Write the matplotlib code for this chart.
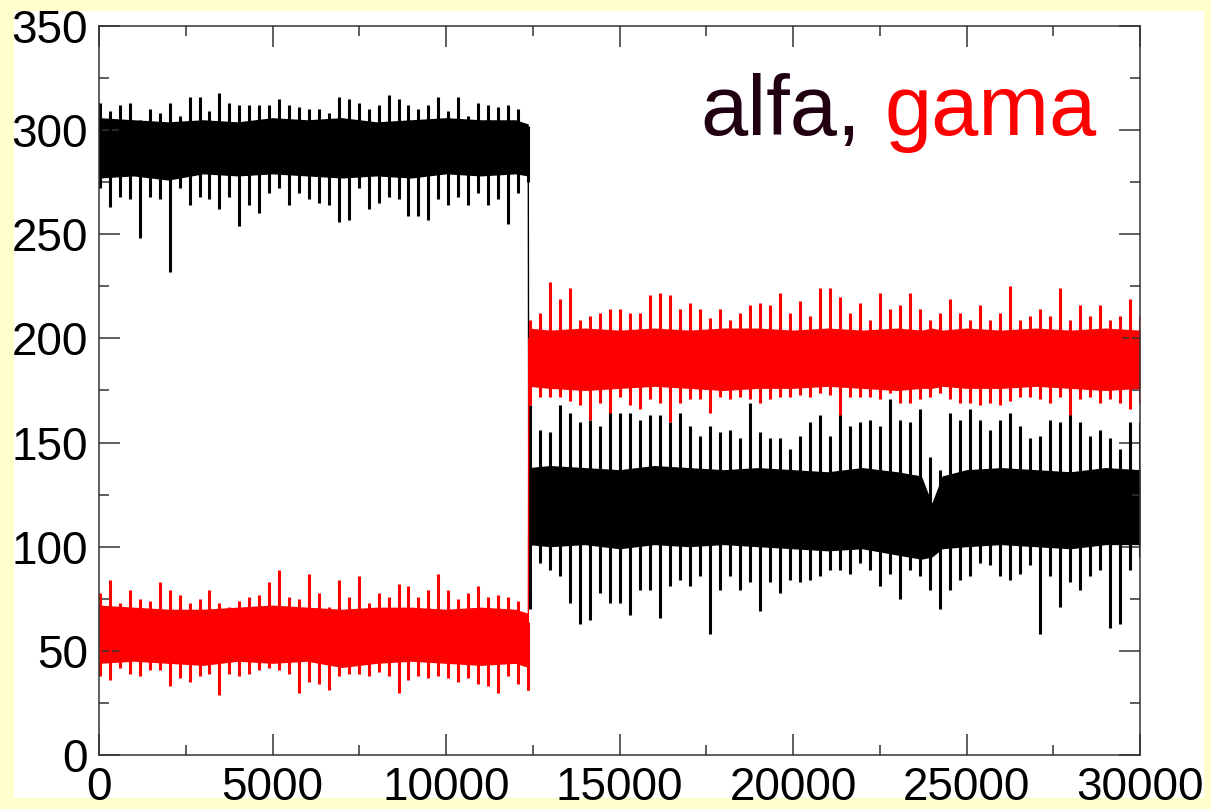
import numpy as np
import matplotlib.pyplot as plt
from matplotlib.patches import Rectangle
from matplotlib.ticker import MultipleLocator

plt.rcParams['font.family'] = ['Liberation Sans', 'DejaVu Sans']

# regime 1 (steps 0 .. 12370): spike extremes, one pair per ~290-step bin
alfa1_hi = [313, 309, 312, 313, 305, 310, 308, 313, 307, 316, 316, 309, 318, 313, 312,
            312, 312, 312, 315, 312, 311, 310, 310, 308, 316, 315, 313, 310, 312, 317,
            315, 312, 310, 312, 316, 309, 316, 307, 313, 312, 311, 312, 310, 302]
alfa1_lo = [272, 263, 268, 267, 248, 268, 267, 232, 272, 264, 268, 267, 262, 268, 254,
            264, 260, 270, 272, 264, 270, 267, 265, 264, 256, 257, 272, 262, 265, 268,
            267, 259, 259, 257, 267, 264, 268, 264, 270, 264, 267, 255, 270, 275]
gama1_hi = [78, 84, 73, 79, 75, 74, 83, 79, 77, 73, 75, 79, 73, 71, 74,
            76, 77, 83, 89, 76, 75, 87, 78, 71, 84, 76, 86, 73, 78, 76,
            82, 81, 76, 79, 87, 79, 75, 78, 81, 76, 77, 76, 74, 64]
gama1_lo = [38, 36, 42, 39, 38, 41, 41, 33, 37, 35, 38, 39, 29, 39, 38,
            39, 41, 42, 41, 39, 30, 35, 34, 31, 38, 39, 39, 38, 40, 38,
            30, 36, 38, 37, 38, 37, 35, 37, 34, 33, 30, 38, 34, 31]

# regime 2 (steps 12420 .. 30000)
alfa2_hi = [168, 156, 155, 168, 164, 160, 161, 158, 166, 164, 164, 161, 163, 163, 160, 164,
            158, 153, 158, 155, 156, 152, 169, 155, 152, 152, 147, 153, 160, 163, 153,
            164, 158, 160, 161, 158, 171, 161, 160, 166, 143, 137, 164, 161, 166, 161, 156,
            161, 164, 158, 152, 153, 161, 160, 167, 160, 153, 156, 152, 147, 160, 160]
alfa2_lo = [70, 92, 89, 86, 73, 63, 65, 78, 73, 73, 67, 79, 79, 66, 81, 84,
            81, 86, 58, 79, 86, 79, 83, 69, 83, 78, 84, 83, 84, 86, 89,
            89, 87, 92, 89, 81, 87, 75, 89, 86, 79, 70, 79, 84, 86, 92, 91,
            86, 84, 87, 91, 58, 86, 71, 83, 79, 86, 89, 61, 63, 89, 95]
gama2_hi = [209, 212, 227, 219, 224, 209, 211, 212, 214, 214, 212, 212, 221, 222, 221, 214,
            217, 214, 210, 214, 209, 212, 216, 217, 216, 222, 212, 218, 211, 224, 224,
            220, 212, 217, 209, 222, 214, 216, 222, 214, 209, 212, 219, 212, 209, 216, 209,
            212, 225, 209, 211, 214, 211, 224, 209, 216, 211, 216, 209, 211, 219, 211]
gama2_lo = [168, 172, 172, 172, 170, 168, 161, 169, 164, 172, 168, 166, 171, 169, 160, 169,
            171, 171, 164, 172, 171, 172, 171, 169, 171, 172, 172, 173, 172, 174, 173,
            163, 172, 172, 172, 171, 174, 169, 169, 171, 172, 174, 171, 169, 169, 168, 169,
            168, 170, 172, 172, 171, 169, 172, 163, 171, 172, 169, 171, 169, 166, 169]

# dense (almost solid) part of each band
core1_x = [0, 1000, 2000, 3000, 4000, 5000, 6000, 7000, 8000, 9000, 10000, 11000, 12000, 12370]
alfa1_top = [306, 305, 304, 305, 304, 306, 305, 306, 304, 305, 306, 305, 305, 303]
alfa1_bot = [277, 278, 276, 279, 278, 279, 278, 277, 278, 277, 279, 278, 279, 278]
gama1_top = [72, 71, 70, 70, 71, 72, 71, 70, 71, 71, 70, 71, 70, 68]
gama1_bot = [44, 45, 44, 43, 45, 44, 45, 42, 44, 45, 44, 43, 44, 42]

core2_x = [12380, 13000, 14000, 15000, 16000, 17000, 18000, 19000, 20000, 21000,
           22000, 23000, 23700, 24000, 24300, 25000, 26000, 27000, 28000, 29000, 30000]
alfa2_top = [138, 139, 138, 137, 139, 138, 137, 138, 137, 136, 138, 136, 134, 121, 134,
             137, 138, 137, 136, 138, 137]
alfa2_bot = [101, 100, 101, 99, 101, 100, 101, 100, 99, 98, 99, 96, 94, 95, 99,
             100, 101, 100, 99, 101, 101]
gama2_top = [205, 204, 205, 204, 205, 204, 205, 205, 204, 205, 204, 205, 204, 205, 204,
             205, 204, 205, 204, 205, 204]
gama2_bot = [177, 176, 175, 176, 177, 176, 175, 176, 176, 177, 176, 175, 176, 176, 177,
             176, 176, 177, 176, 175, 176]

# the jump between regimes
switch_x = [12370, 12385]
alfa_switch = [297, 120]
gama_switch = [31, 200]

bins1 = np.linspace(30, 12360, len(alfa1_hi))
bins2 = np.linspace(12420, 29990, len(alfa2_hi))

fig = plt.figure(figsize=(12.11, 8.09), dpi=100, facecolor='#ffffcc')
fig.patches.append(Rectangle((14 / 1211, 1 - 798 / 809), 1190 / 1211, 787 / 809,
                             transform=fig.transFigure, facecolor='white',
                             edgecolor='none', zorder=-10))
ax = fig.add_axes([99 / 1211, 1 - 755 / 809, 1041 / 1211, 729 / 809], zorder=1)

for col, c1t, c1b, c2t, c2b, h1, l1, h2, l2, sw in [
        ('black', alfa1_top, alfa1_bot, alfa2_top, alfa2_bot,
         alfa1_hi, alfa1_lo, alfa2_hi, alfa2_lo, alfa_switch),
        ('#ff0000', gama1_top, gama1_bot, gama2_top, gama2_bot,
         gama1_hi, gama1_lo, gama2_hi, gama2_lo, gama_switch)]:
    ax.fill_between(core1_x, c1b, c1t, color=col, lw=0)
    ax.fill_between(core2_x, c2b, c2t, color=col, lw=0)
    ax.vlines(bins1, l1, h1, color=col, lw=2.2)
    ax.vlines(bins2, l2, h2, color=col, lw=2.2)
    ax.plot(switch_x, sw, color=col, lw=1)

ax.set_xlim(0, 30000)
ax.set_ylim(0, 350)
ax.xaxis.set_major_locator(MultipleLocator(5000))
ax.xaxis.set_minor_locator(MultipleLocator(2500))
ax.yaxis.set_major_locator(MultipleLocator(50))
ax.yaxis.set_minor_locator(MultipleLocator(25))
ax.tick_params(which='both', direction='in', top=True, right=True,
               width=1.1, color='#333333', labelsize=33)
ax.tick_params(which='major', length=15)
ax.tick_params(which='minor', length=7.5)
ax.tick_params(axis='x', pad=8)
ax.tick_params(axis='y', pad=8)
for s in ax.spines.values():
    s.set_linewidth(1.1)
    s.set_color('#333333')

fig.text(700 / 1211, 1 - 135 / 809, 'alfa,', fontsize=61, color='#200010', va='baseline', zorder=5)
fig.text(885 / 1211, 1 - 135 / 809, 'gama', fontsize=61, color='#ff0000', va='baseline', zorder=5)

fig.savefig('out.png', dpi=100, facecolor=fig.get_facecolor())
